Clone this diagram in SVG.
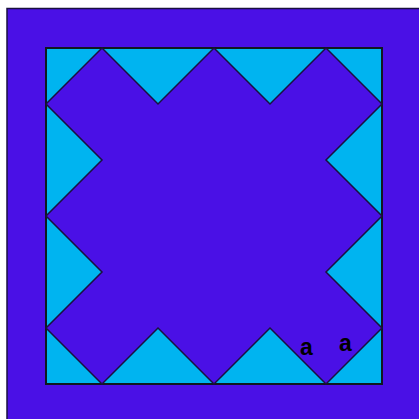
<svg xmlns="http://www.w3.org/2000/svg" width="419" height="419" viewBox="0 0 419 419">
<style>
.purple{fill:#4a10e6;stroke:#1a1040;stroke-width:1.5}
.blue{fill:#00b4f0;stroke:#101820;stroke-width:2}
.lbl{font-family:"Liberation Sans",Arial,sans-serif;font-size:23px;font-weight:bold;fill:#000}
</style>
<rect width="419" height="419" fill="#ffffff"/>
<g id="outer"><rect class="purple" x="7" y="8.5" width="420" height="420"/></g>
<g id="inner"><rect class="blue" x="46" y="48" width="336" height="336"/></g>
<g id="cross"><polygon class="purple" points="102,48 158,104 214,48 270,104 326,48 382,104 326,160 382,216 326,272 382,328 326,384 270,328 214,384 158,328 102,384 46,328 102,272 46,216 102,160 46,104"/></g>
<g id="labels">
<text class="lbl" x="300" y="355">a</text>
<text class="lbl" x="339" y="351">a</text>
</g>
</svg>
